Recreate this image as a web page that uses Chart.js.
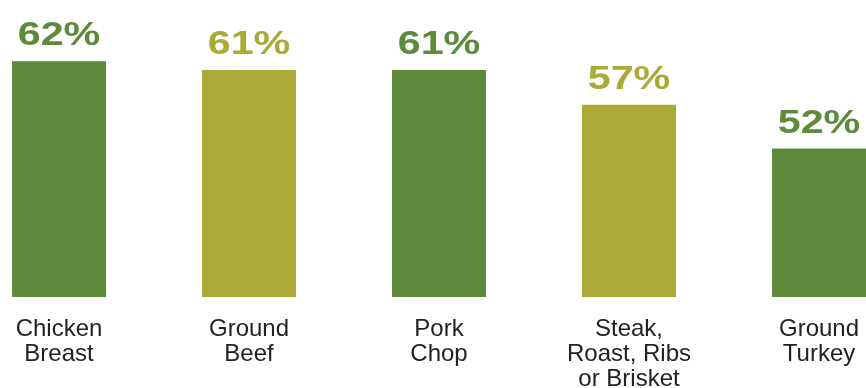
<!DOCTYPE html>
<html>
<head>
<meta charset="utf-8">
<script src="https://cdn.jsdelivr.net/npm/chart.js@4"></script>
<style>
  html, body { margin: 0; padding: 0; background: #fff; overflow: hidden; }
  #wrap { position: absolute; left: -36px; top: 0; width: 950px; height: 388px; }
</style>
</head>
<body>
<div id="wrap"><canvas id="grafico" width="950" height="388"></canvas></div>
<script>
const categorias = [
  ["Chicken", "Breast"],
  ["Ground", "Beef"],
  ["Pork", "Chop"],
  ["Steak,", "Roast, Ribs", "or Brisket"],
  ["Ground", "Turkey"]
];
const valores = [62, 61, 61, 57, 52];
const rotulos = ["62%", "61%", "61%", "57%", "52%"];

const verde = "#5d8a3b";
const oliva = "#a9ab36";
const cores = valores.map((_, i) => (i % 2 === 0 ? verde : oliva));

// percent labels over each bar (font stretched a bit, the original is wide)
const rotulosValor = {
  id: "rotulosValor",
  afterDatasetsDraw(chart) {
    const ctx = chart.ctx;
    const meta = chart.getDatasetMeta(0);
    meta.data.forEach((bar, i) => {
      ctx.save();
      ctx.font = "bold 33px 'Liberation Sans', Arial, sans-serif";
      ctx.textAlign = "center";
      ctx.textBaseline = "alphabetic";
      ctx.fillStyle = cores[i];
      ctx.translate(bar.x, bar.y - 16);
      ctx.scale(1.25, 1);
      ctx.fillText(rotulos[i], 0, 0);
      ctx.restore();
    });
  }
};

const ctx = document.getElementById("grafico").getContext("2d");
new Chart(ctx, {
  type: "bar",
  data: {
    labels: categorias,
    datasets: [{
      data: valores,
      backgroundColor: cores,
      borderWidth: 0,
      categoryPercentage: 1,
      barPercentage: 0.495
    }]
  },
  options: {
    responsive: false,
    animation: false,
    layout: { padding: 0 },
    plugins: { legend: { display: false }, tooltip: { enabled: false } },
    scales: {
      x: {
        grid: { display: false, drawTicks: false },
        border: { display: false },
        afterFit(scale) { scale.height = 91; },
        ticks: {
          color: "#222",
          font: { family: "'Liberation Sans', Arial, sans-serif", size: 24, lineHeight: 1.04 },
          padding: 20,
          maxRotation: 0,
          autoSkip: false
        }
      },
      y: {
        display: false,
        min: 35,
        max: 69
      }
    }
  },
  plugins: [rotulosValor]
});
</script>
</body>
</html>
